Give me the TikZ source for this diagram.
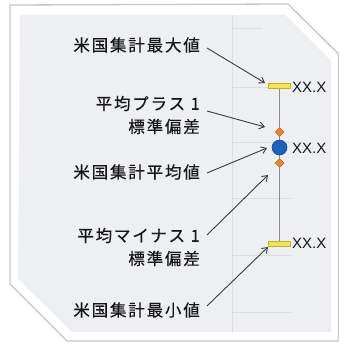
\documentclass[tikz,border=0pt]{standalone}
\usepackage{fontspec}
\usetikzlibrary{arrows.meta,shapes.geometric,calc}
\newfontfamily\jpfont[LetterSpace=11,FakeBold=0.35]{Noto Sans CJK JP}
\newfontfamily\latfont{Liberation Sans}
\definecolor{framegray}{HTML}{C4C6CA}
\definecolor{panelfill}{HTML}{EDEFF2}
\definecolor{gridgray}{HTML}{DADDE2}
\definecolor{txt}{HTML}{161616}
\definecolor{arrowgray}{HTML}{3C3C3C}
\definecolor{barfill}{HTML}{F2E45A}
\definecolor{bardraw}{HTML}{C2AE2A}
\definecolor{diafill}{HTML}{E8842C}
\definecolor{diadraw}{HTML}{B8621A}
\definecolor{dotfill}{HTML}{1E60BA}
\definecolor{dotdraw}{HTML}{164C94}
\definecolor{whisker}{HTML}{8C8C8C}
\tikzset{
  lbl/.style={anchor=east,inner sep=0pt,text=txt,align=right,
    font=\jpfont\fontsize{16.5}{23}\selectfont},
  val/.style={anchor=west,inner sep=0pt,text=txt,
    font=\latfont\fontsize{15}{18}\selectfont},
  arr/.style={draw=arrowgray,line width=0.9pt,
    -{Straight Barb[length=5pt,width=7pt]}},
  gridline/.style={draw=gridgray,line width=0.8pt},
  barmark/.style={rectangle,minimum width=22pt,minimum height=4.5pt,
    inner sep=0pt,fill=barfill,draw=bardraw,line width=0.6pt},
  diamark/.style={diamond,minimum width=9pt,minimum height=9pt,
    inner sep=0pt,fill=diafill,draw=diadraw,line width=0.5pt},
  dotmark/.style={circle,minimum size=15pt,inner sep=0pt,
    fill=dotfill,draw=dotdraw,line width=0.6pt}
}
\begin{document}
\begin{tikzpicture}[x=1pt,y=-1pt]
\useasboundingbox (0,0) rectangle (339,345);
% frame
\path[fill=white,draw=framegray,line width=1.3pt]
  (10,5) -- (288,4) -- (338.5,54) -- (338.5,341) -- (67,341) -- (10,284) -- cycle;
\path[fill=panelfill]
  (20,15) -- (285,15) -- (331,61) -- (331,332) -- (72,332) -- (18,279) -- cycle;
% grid
\draw[gridline] (232,15) -- (232,332);
\draw[gridline] (232,28) -- (262,28);
\foreach \yy in {87,142,198,255,312}
  \draw[gridline] (232,\yy) -- (291,\yy);
% whisker
\coordinate (ptop) at (279.5,86);
\coordinate (pbot) at (279.5,244);
\draw[draw=whisker,line width=1.5pt] (ptop) -- (pbot);
\node[barmark] (maxbar) at (ptop) {};
\node[barmark] (minbar) at (pbot) {};
\node[diamark] (updia) at (279.5,132) {};
\node[dotmark] (mean) at (279.5,147.5) {};
\node[diamark] (lodia) at (279.5,163) {};
% values
\node[val] (vmax) at (292,87) {XX.X};
\node[val] (vmean) at (292,148) {XX.X};
\node[val] (vmin) at (292,243.5) {XX.X};
% labels
\node[lbl] (lmax) at (200,45) {米国集計最大値};
\node[lbl] (lup) at (200,115) {平均プラス 1\\標準偏差};
\node[lbl] (lmean) at (200,172) {米国集計平均値};
\node[lbl] (llo) at (200,247) {平均マイナス 1\\標準偏差};
\node[lbl] (lmin) at (200,310) {米国集計最小値};
% arrow tips
\coordinate (tmax) at (265,83);
\coordinate (tup) at (265,127);
\coordinate (tmean) at (267,148);
\coordinate (tlo) at (268,175);
\coordinate (tmin) at (268,247);
% arrows
\draw[arr] ([shift={(7,3)}]lmax.east) -- (tmax);
\draw[arr] ([shift={(7,-4)}]lup.east) -- (tup);
\draw[arr] ([shift={(7,1)}]lmean.east) -- (tmean);
\draw[arr] ([shift={(7,-12)}]llo.east) -- (tlo);
\draw[arr] ([shift={(7,-4)}]lmin.east) -- (tmin);
\end{tikzpicture}
\end{document}
